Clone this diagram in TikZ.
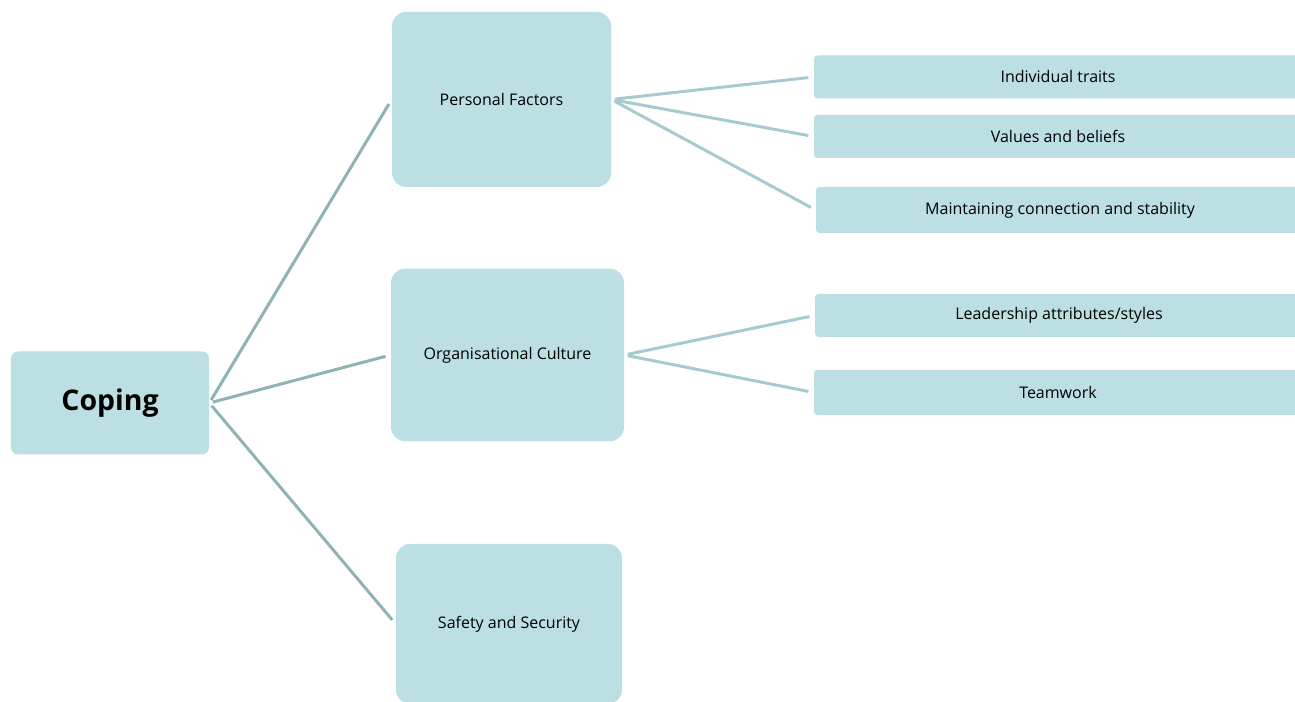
\documentclass[tikz,border=0pt]{standalone}
\usepackage{fontspec}
\setmainfont{Open Sans}
\usetikzlibrary{positioning}
\definecolor{boxfill}{HTML}{BBDFE3}
\definecolor{linkdark}{HTML}{8FB3B5}
\definecolor{linklight}{HTML}{A5CBCE}

\begin{document}
\begin{tikzpicture}[on grid,
		root/.style={fill=boxfill,rounded corners=4pt,minimum width=3.96cm,minimum height=2.06cm,font=\fontsize{16.2}{19}\selectfont\bfseries},
		topic/.style={fill=boxfill,rounded corners=8pt,minimum height=3.45cm,font=\fontsize{9.1}{11}\selectfont},
		leaf/.style={fill=boxfill,rounded corners=2pt,minimum width=9.76cm,minimum height=0.86cm,font=\fontsize{9.1}{11}\selectfont},
		branch/.style={draw=linkdark,line width=1.7pt,shorten <=2pt,shorten >=3pt},
		twig/.style={draw=linklight,line width=1.7pt,shorten <=2pt,shorten >=3pt}]
			\clip (-2.2,-5.98) rectangle (23.7,8.06);
			\node[root] (coping) at (0,0) {Coping};
			\node[topic, minimum width=4.38cm, minimum height=3.5cm] (pf) [above right=6.07cm and 7.83cm of coping] {Personal Factors};
			\node[topic, minimum width=4.66cm] (oc) [above right=0.96cm and 7.95cm of coping] {Organisational Culture};
			\node[topic, minimum width=4.52cm, minimum height=3.2cm] (ss) [below right=4.42cm and 7.98cm of coping] {Safety and Security};
			\node[leaf] (it) [above right=6.52cm and 18.96cm of coping] {Individual traits};
			\node[leaf] (vb) [above right=5.33cm and 18.96cm of coping] {Values and beliefs};
			\node[leaf, minimum height=0.92cm] (mc) [above right=3.86cm and 19.0cm of coping] {Maintaining connection and stability};
			\node[leaf] (la) [above right=1.75cm and 18.98cm of coping] {Leadership attributes/styles};
			\node[leaf, minimum height=0.9cm] (tw) [above right=0.21cm and 18.96cm of coping] {Teamwork};
			\path
				(coping.east) edge [branch] (pf.west)
				(coping.east) edge [branch] (oc.west)
				(coping.east) edge [branch] (ss.west)
				(pf.east) edge [twig] (it.west)
				(pf.east) edge [twig] (vb.west)
				(pf.east) edge [twig] (mc.west)
				(oc.east) edge [twig] (la.west)
				(oc.east) edge [twig] (tw.west);
		\end{tikzpicture}
\end{document}
